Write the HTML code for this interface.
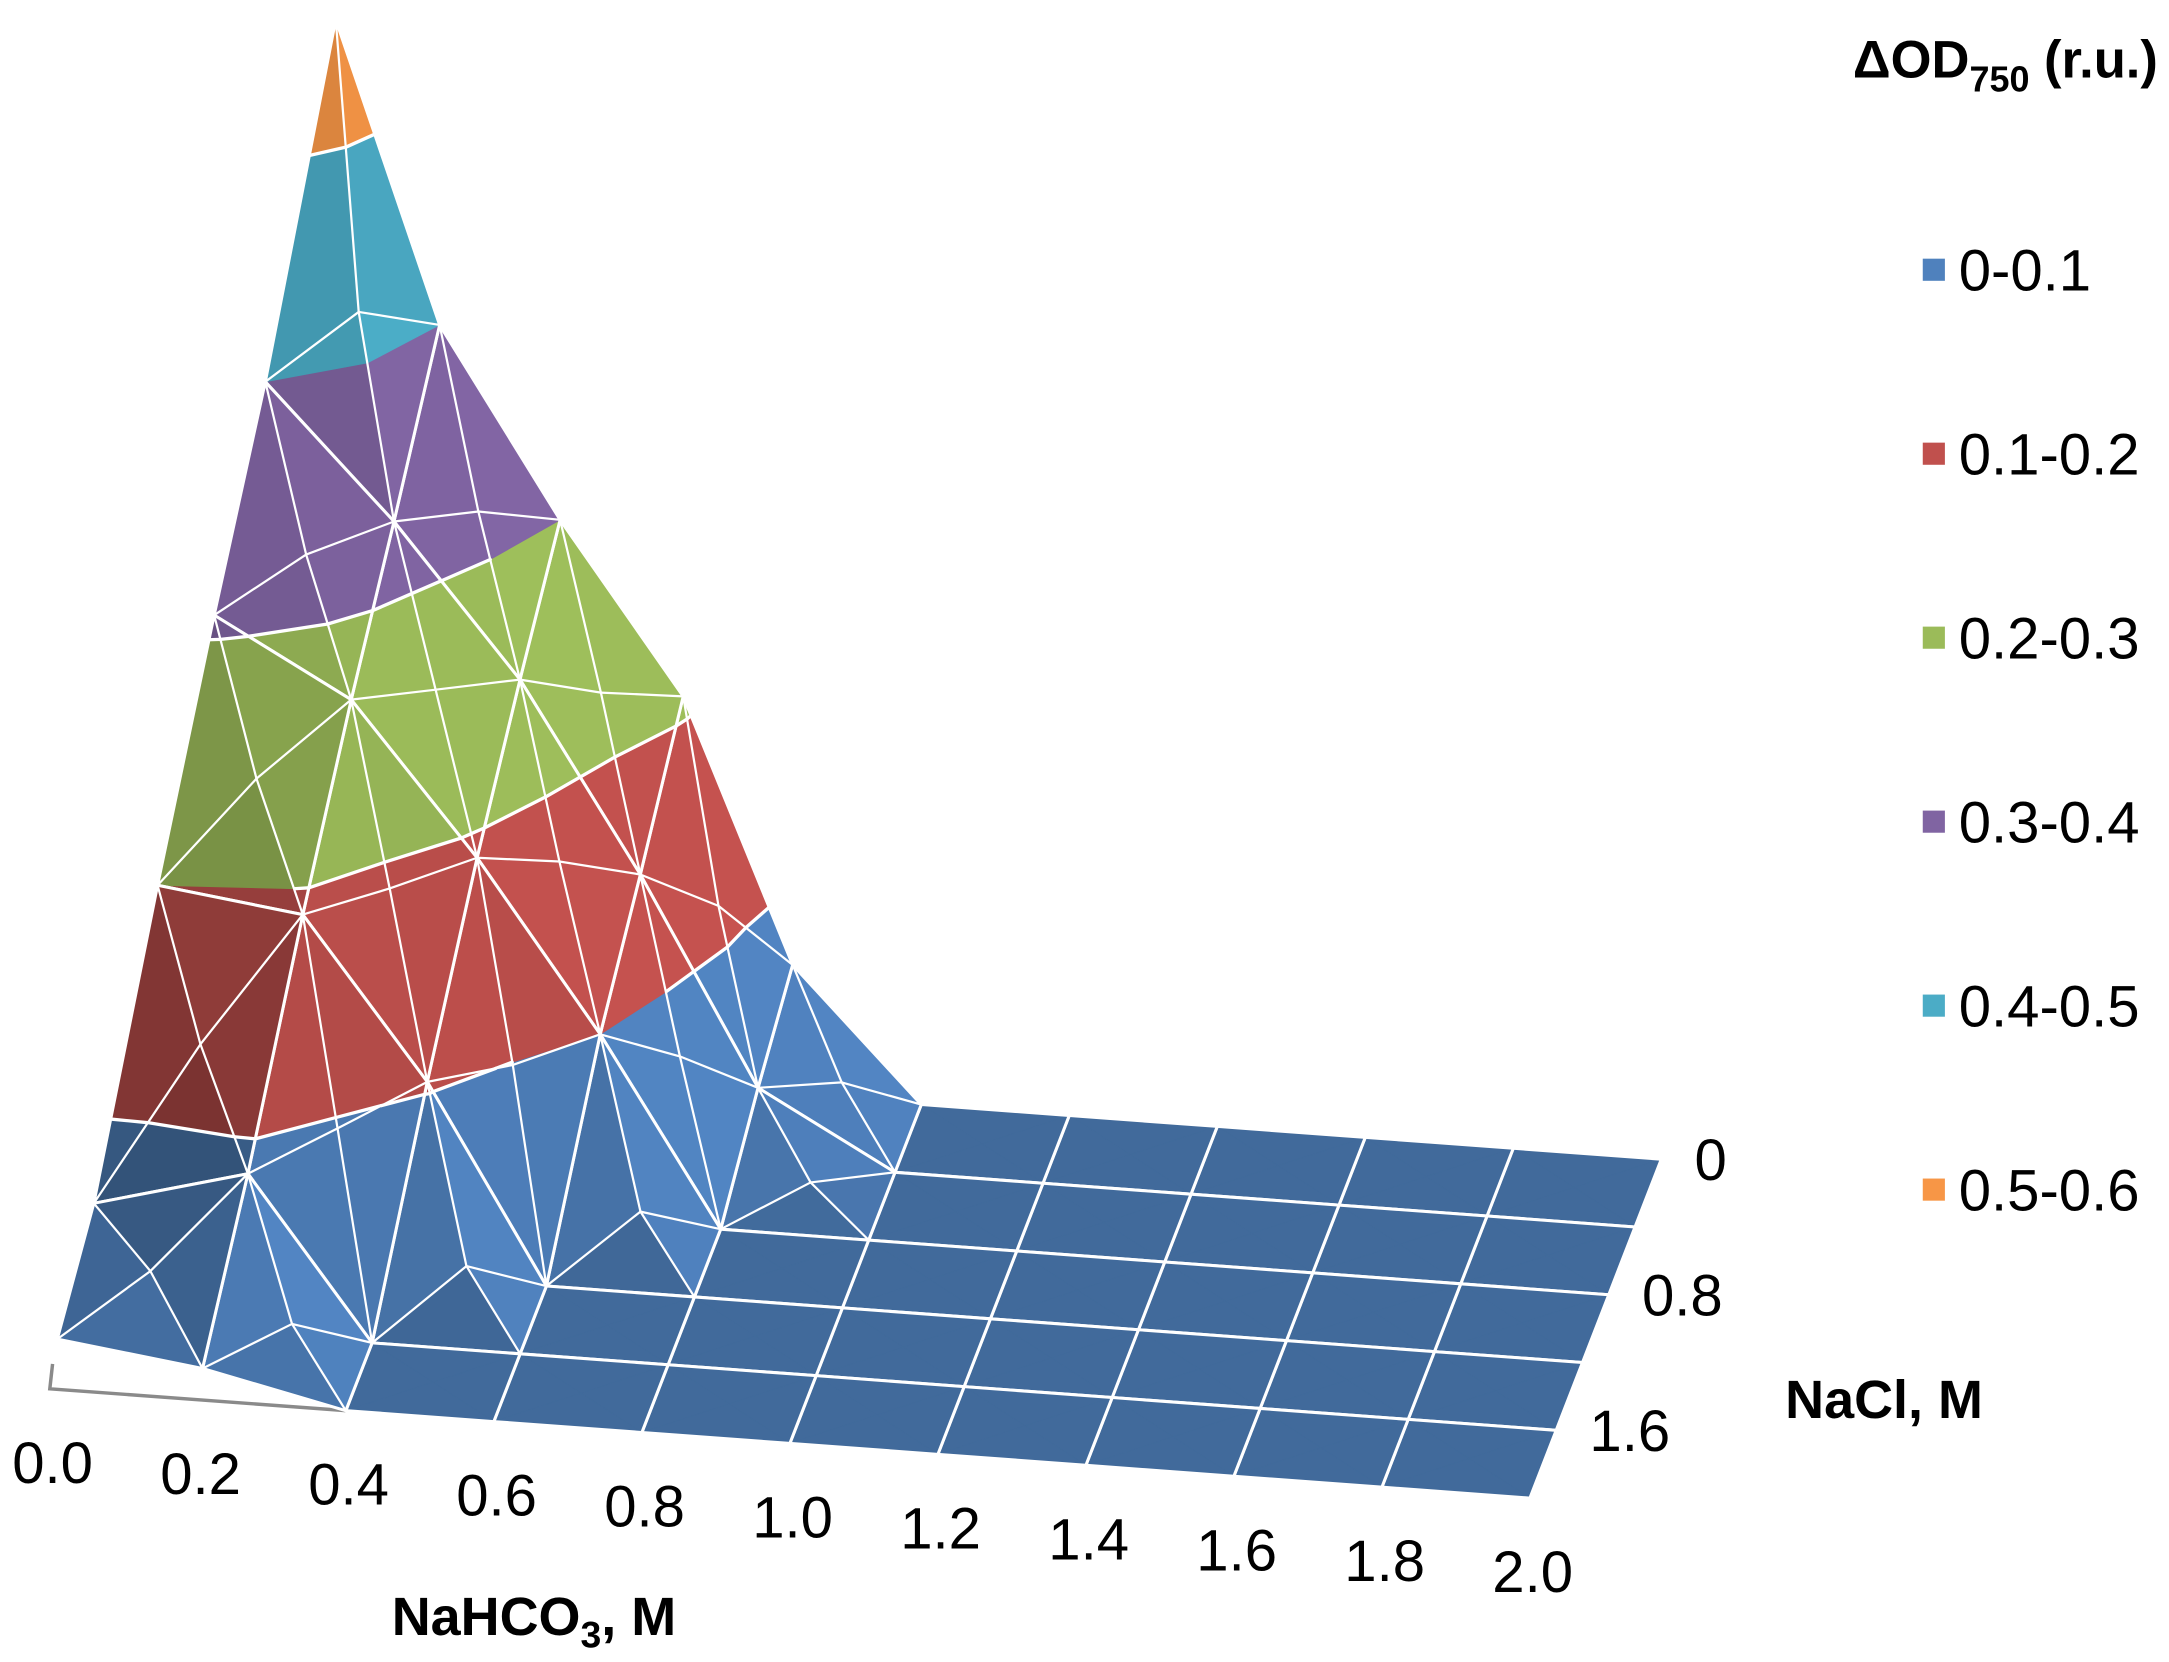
<!DOCTYPE html>
<html><head><meta charset="utf-8">
<style>
html,body{margin:0;padding:0;background:#fff;}
svg{display:block;}
text{font-family:"Liberation Sans",Arial,sans-serif;fill:#000;}
</style></head>
<body>
<svg id="chart" width="2169" height="1662" viewBox="0 0 1568 1201.5" xmlns="http://www.w3.org/2000/svg">
  <g id="surface"></g>
  <g id="axes"></g>
  <text x="386" y="1182" font-size="39" font-weight="bold" text-anchor="middle">NaHCO<tspan font-size="27" dy="9">3</tspan><tspan dy="-9">, M</tspan></text>
  <text x="1362" y="1025" font-size="39" font-weight="bold" text-anchor="middle">NaCl, M</text>
  <g>
    <text x="1560" y="56" font-size="38" font-weight="bold" text-anchor="end">ΔOD<tspan font-size="26" dy="10">750</tspan><tspan dy="-10"> (r.u.)</tspan></text>
    <g id="legend-items"></g>
  </g>
</svg>
<script>
// ---- data ----
const nahco3Ticks = ["0.0","0.2","0.4","0.6","0.8","1.0","1.2","1.4","1.6","1.8","2.0"];
const naclTicks = ["0","0.8","1.6"];
const naclTickIdx = [0,2,4];
const bandLabels = ["0-0.1","0.1-0.2","0.2-0.3","0.3-0.4","0.4-0.5","0.5-0.6"];
const bandColors = ["#4F81BD","#C0504D","#9BBB59","#8064A2","#4BACC6","#F79646"];
// rows: NaCl = 0, 0.4, 0.8, 1.2, 1.6, 2.0 ; columns: NaHCO3 0..2.0 step 0.2
const odNaCl00 = [0.56,0.40,0.30,0.21,0.07,0,0,0,0,0,0];
const odNaCl04 = [0.40,0.33,0.25,0.15,0.04,0,0,0,0,0,0];
const odNaCl08 = [0.31,0.27,0.19,0.10,0,0,0,0,0,0,0];
const odNaCl12 = [0.20,0.19,0.105,0,0,0,0,0,0,0,0];
const odNaCl16 = [0.064,0.086,0,0,0,0,0,0,0,0,0];
const odNaCl20 = [0.027,0.017,0,0,0,0,0,0,0,0,0];
const grid = [odNaCl00,odNaCl04,odNaCl08,odNaCl12,odNaCl16,odNaCl20];

// ---- projection ----
const NS="http://www.w3.org/2000/svg";
const NR = grid.length, NC = grid[0].length;
const HS = 1330, LEAN = 0.15;
function proj(c, r, h){
  const bx = 36 + c*107 + (NR-1-r)*19;
  const by = 1004 + c*7.9 - (NR-1-r)*49;
  const d = h*HS;
  return [bx + d*LEAN, by - d];
}
function pt(c,r,h){const p=proj(c,r,h);return {x:p[0],y:p[1],h:h,c:c,r:r};}
function hex(c){return [1,3,5].map(i=>parseInt(c.substr(i,2),16));}
function shadeCol(col,s){return "rgb("+hex(col).map(v=>Math.max(0,Math.min(255,Math.round(v*s)))).join(",")+")";}
function clipPoly(poly, lvl, keepAbove){
  const out=[];
  for(let i=0;i<poly.length;i++){
    const a=poly[i], b=poly[(i+1)%poly.length];
    const ia = keepAbove ? a.h>=lvl : a.h<=lvl;
    const ib = keepAbove ? b.h>=lvl : b.h<=lvl;
    if(ia) out.push(a);
    if(ia!==ib){const t=(lvl-a.h)/(b.h-a.h);out.push({x:a.x+t*(b.x-a.x),y:a.y+t*(b.y-a.y),h:lvl});}
  }
  return out;
}
const surf=document.getElementById('surface');
function poly(pts,fill,name){
  const p=document.createElementNS(NS,'polygon');
  p.setAttribute('points',pts.map(q=>q.x.toFixed(1)+','+q.y.toFixed(1)).join(' '));
  p.setAttribute('fill',fill);p.setAttribute('stroke',fill);p.setAttribute('stroke-width','0.6');
  
  
  surf.appendChild(p);
}
function line(a,b,w,name,col){
  const l=document.createElementNS(NS,'line');
  l.setAttribute('x1',a.x.toFixed(1));l.setAttribute('y1',a.y.toFixed(1));
  l.setAttribute('x2',b.x.toFixed(1));l.setAttribute('y2',b.y.toFixed(1));
  l.setAttribute('stroke',col||'#fff');l.setAttribute('stroke-width',w);l.setAttribute('stroke-linecap','round');
  
  
  surf.appendChild(l);
}
const L=[0.7,0.6,0.12];const Ln=Math.hypot(...L);
function triShade(A,B,C){
  const w=q=>[q.c,q.h*12,q.r];
  const a=w(A),b=w(B),c=w(C);
  const u=[b[0]-a[0],b[1]-a[1],b[2]-a[2]],v=[c[0]-a[0],c[1]-a[1],c[2]-a[2]];
  let n=[u[1]*v[2]-u[2]*v[1],u[2]*v[0]-u[0]*v[2],u[0]*v[1]-u[1]*v[0]];
  if(n[1]<0)n=n.map(x=>-x);
  const nl=Math.hypot(...n)||1;
  const d=(n[0]*L[0]+n[1]*L[1]+n[2]*L[2])/(nl*Ln);
  return 0.42+0.62*d;
}
function drawTri(A,B,C){
  const s=triShade(A,B,C);
  for(let k=0;k<6;k++){
    let p=[A,B,C];
    if(k>0)p=clipPoly(p,k/10,true);
    if(p.length>=3&&k<5)p=clipPoly(p,(k+1)/10,false);
    if(p.length>=3)poly(p,shadeCol(bandColors[k],s),'surface-band-'+k);
  }
  for(let k=1;k<6;k++){
    const lv=k/10,pts=[];const vs=[A,B,C];
    for(let i=0;i<3;i++){const a=vs[i],b=vs[(i+1)%3];
      if((a.h-lv)*(b.h-lv)<0){const t=(lv-a.h)/(b.h-a.h);pts.push({x:a.x+t*(b.x-a.x),y:a.y+t*(b.y-a.y)});}}
    if(pts.length===2)line(pts[0],pts[1],2.4,'contour-line');
  }
}
for(let r=0;r<NR-1;r++){
  for(let c=NC-2;c>=0;c--){
    const p00=pt(c,r,grid[r][c]),p10=pt(c+1,r,grid[r][c+1]),p01=pt(c,r+1,grid[r+1][c]),p11=pt(c+1,r+1,grid[r+1][c+1]);
    const hm=(p00.h+p10.h+p01.h+p11.h)/4;const m=pt(c+0.5,r+0.5,hm);
    drawTri(p00,p10,m);drawTri(p10,p11,m);drawTri(p00,p01,m);drawTri(p01,p11,m);
    const flat=(p00.h===p10.h&&p10.h===p01.h&&p01.h===p11.h);
    if(!flat){[p00,p10,p01,p11].forEach(q=>line(q,m,1.6,'mesh-diagonal'));}
    line(p00,p10,2.2,'grid-line');line(p10,p11,2.2,'grid-line');line(p11,p01,2.2,'grid-line');line(p01,p00,2.2,'grid-line');
  }
}
const axes=document.getElementById('axes');
function txt(x,y,s,fs,anchor,name,parent){
  const t=document.createElementNS(NS,'text');
  t.setAttribute('x',x.toFixed(1));t.setAttribute('y',y.toFixed(1));t.setAttribute('font-size',fs);
  t.setAttribute('text-anchor',anchor);t.textContent=s;
  
  
  (parent||axes).appendChild(t);
}
const fl0=pt(0,NR-1,0),fl2=pt(2,NR-1,0);
const g1=document.createElementNS(NS,'polyline');
g1.setAttribute('points',(fl0.x+2)+','+(fl0.y-18)+' '+(fl0.x)+','+(fl0.y)+' '+fl2.x+','+fl2.y);
g1.setAttribute('fill','none');g1.setAttribute('stroke','#8a8a8a');g1.setAttribute('stroke-width','2.5');


surf.insertBefore(g1,surf.firstChild);
nahco3Ticks.forEach((s,i)=>{const p=proj(i,NR-1,0);txt(p[0]+2,p[1]+68,s,42,'middle','x-tick-label');});
naclTicks.forEach((s,i)=>{const p=proj(NC-1,naclTickIdx[i],0);txt(p[0]+24,p[1]+15,s,42,'start','depth-tick-label');});
const lg=document.getElementById('legend-items');
bandLabels.forEach((s,i)=>{
  const y=195+i*133;
  const r=document.createElementNS(NS,'rect');
  r.setAttribute('x',1390);r.setAttribute('y',y-8);r.setAttribute('width',16);r.setAttribute('height',16);
  r.setAttribute('fill',bandColors[i]);
  
  
  lg.appendChild(r);
  txt(1416,y+15,s,42,'start','legend-entry',lg);
});
</script>
</body></html>
